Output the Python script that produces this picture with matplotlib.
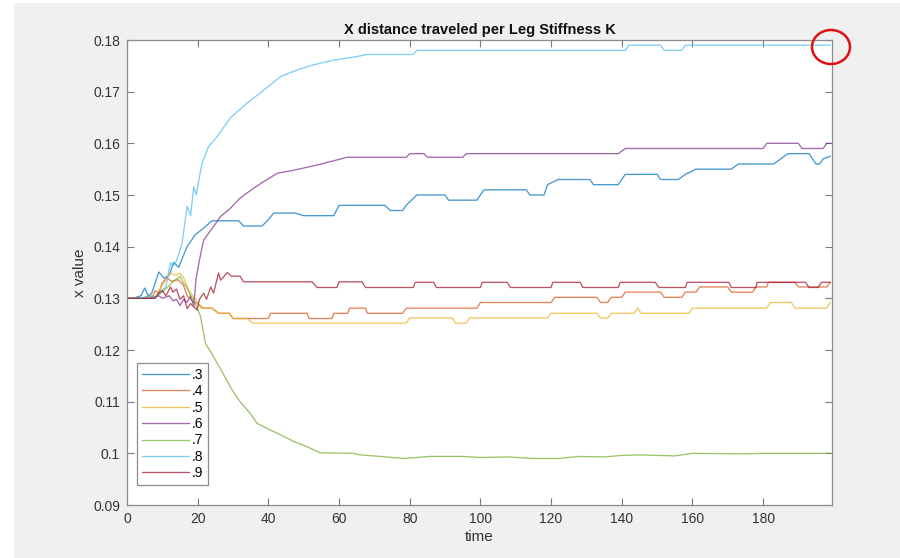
import matplotlib
matplotlib.use("Agg")
import matplotlib.pyplot as plt
from matplotlib.patches import Rectangle, Ellipse

plt.rcParams['font.family'] = ['Liberation Sans', 'DejaVu Sans']

# (time, x value) vertices, one list per stiffness
pts_03 = [(0, .130), (2, .130), (3, .1303), (4, .1305), (5, .132), (6, .1305), (7, .131),
          (9, .1351), (10.5, .1339), (12, .1345), (13.2, .137), (14.6, .136), (17, .140),
          (19.3, .1423), (21.7, .1436), (24, .145), (31.6, .145), (33, .144), (38.2, .144),
          (39.7, .145), (41.5, .1465), (47.6, .1465), (50, .146), (58.5, .146), (60, .148),
          (73, .148), (74.5, .147), (78, .147), (79, .148), (82, .150), (90, .150), (91, .149),
          (99, .149), (101, .151), (113, .151), (114, .150), (118, .150), (119, .152),
          (122, .153), (131, .153), (132, .152), (139, .152), (141, .154), (150, .154),
          (151, .153), (156, .153), (158, .154), (161, .155), (171, .155), (173, .156),
          (183, .156), (185, .157), (187, .158), (193, .158), (194, .157), (195, .156),
          (196, .156), (197, .157), (199, .1575)]

pts_04 = [(0, .130), (5, .130), (6, .1305), (7, .130), (8, .1315), (9, .131), (10, .133),
          (11.3, .134), (12.5, .1333), (14.5, .1336), (16, .1325), (17, .1305), (18.5, .1295),
          (20, .129), (21.5, .1281), (24, .1281), (26, .1271), (29, .1271), (30, .1261),
          (40, .1261), (40.6, .1271), (51, .1271), (51.5, .1261), (58, .1261), (58.5, .1271),
          (62.4, .1271), (63, .1281), (67.5, .1281), (68, .1271), (78, .1271), (79, .1281),
          (99, .1281), (100, .1292), (120, .1292), (121, .1302), (133, .1302), (134, .1292),
          (136, .1292), (137, .1302), (140, .1302), (141, .1312), (151, .1312), (152, .1302),
          (157, .1302), (158, .1312), (161, .1312), (162, .1322), (170, .1322), (171, .1312),
          (177, .1312), (178, .1322), (181, .1322), (181.5, .1331), (189, .1331),
          (190, .1322), (198, .1322), (199, .1331)]

pts_05 = [(0, .130), (6, .130), (7, .1305), (8, .130), (9, .1315), (10, .1325), (12.3, .135),
          (13.5, .1345), (15, .1348), (16, .134), (17.5, .1315), (19.6, .1296), (20.5, .1285),
          (21, .1281), (24, .1281), (25, .1276), (26, .1271), (29, .1271), (30, .1261),
          (34, .1261), (35.5, .1252), (79, .1252), (80, .1262), (92, .1262), (93, .1252),
          (96, .1252), (97, .1262), (119, .1262), (120, .1271), (133, .1271), (134, .1262),
          (136, .1262), (137, .1271), (143.5, .1271), (144.5, .1281), (145.5, .1271),
          (159, .1271), (160, .1281), (181, .1281), (182, .1292), (188, .1292), (189, .1281),
          (198, .1281), (199, .1292)]

pts_06 = [(0, .130), (7, .130), (9, .1305), (10, .130), (12, .1305), (13, .1295), (14, .1298),
          (15, .1286), (16, .1298), (17, .1292), (18, .1305), (18.9, .1285), (19.5, .1336),
          (20.5, .1374), (21.7, .1413), (24.5, .1439), (26.4, .1458), (29.2, .1474),
          (32, .1494), (35.8, .1513), (38.7, .1526), (42.5, .1542), (47.2, .1548),
          (53.8, .1558), (62.3, .1573), (79, .1573), (80, .158), (84, .158), (85, .1573),
          (95, .1573), (96, .158), (139, .158), (141, .159), (180, .159), (181, .160),
          (190, .160), (191, .159), (197, .159), (198, .160), (199, .160)]

pts_07 = [(0, .130), (5, .130), (6, .1305), (8, .1303), (10, .1312), (12, .1325), (13.5, .1335),
          (15, .1342), (16, .133), (17, .132), (18, .1305), (18.9, .1297), (20.8, .1265),
          (22.2, .1213), (24.5, .1187), (26.9, .1158), (29.7, .1123), (32, .1100),
          (34.9, .1077), (36.8, .1058), (40.6, .1045), (43.4, .1036), (47.2, .1023),
          (50.9, .1013), (54.7, .1001), (64.1, .1000), (66, .0997), (71.7, .0994),
          (75, .0992), (78.3, .0990), (82, .0992), (85.8, .0994), (95, .0994), (100, .0992),
          (108, .0993), (115, .0990), (122, .0990), (128, .0994), (135, .0993), (140, .0996),
          (145, .0997), (155, .0995), (160, .1000), (175, .0999), (180, .1000), (199, .1000)]

pts_08 = [(0, .130), (2, .130), (3, .1303), (4, .1300), (6, .1305), (8, .1302), (9, .131),
          (11, .1322), (12.3, .1369), (13, .1362), (14, .1372), (15.6, .1407), (17, .1478),
          (18, .146), (18.9, .1516), (19.6, .150), (21.2, .1561), (23.1, .1594), (25.5, .1613),
          (29.2, .1649), (34, .1678), (38.7, .1703), (43.4, .1729), (48.1, .1742),
          (52.8, .1752), (58.5, .1761), (65, .1768), (68, .1772), (81, .1772), (82, .178),
          (141, .178), (142, .179), (151, .179), (152, .178), (157, .178), (158, .179),
          (199, .179)]

pts_09 = [(0, .130), (8, .130), (9, .131), (10, .1315), (11, .1305), (12.3, .1322), (13, .1312),
          (14, .1318), (15, .1298), (16, .1305), (17, .128), (18, .129), (19.8, .1277),
          (20.5, .1298), (21.7, .131), (22.5, .1298), (23.7, .1322), (24.5, .131),
          (25.9, .1349), (26.5, .1335), (28.4, .135), (29.5, .1343), (32, .1343), (33, .1332),
          (52.4, .1332), (53.8, .1321), (59.4, .1321), (60, .1332), (66.5, .1332),
          (67.5, .1321), (81, .1321), (81.6, .1331), (86.8, .1331), (87.5, .1321),
          (100, .1321), (100.5, .1331), (107.6, .1331), (108.5, .1321), (120, .1321),
          (120.5, .1331), (128.3, .1331), (129, .1321), (139, .1321), (139.6, .1331),
          (149.5, .1331), (150.5, .1321), (158, .1321), (158.5, .1331), (170.3, .1331),
          (171, .1321), (178, .1321), (178.3, .1331), (192, .1331), (193, .1321),
          (195.6, .1321), (196.5, .1331), (199, .1331)]

labels = ['.3', '.4', '.5', '.6', '.7', '.8', '.9']
series = [pts_03, pts_04, pts_05, pts_06, pts_07, pts_08, pts_09]
colors = ['#0072BD', '#D95319', '#EDB120', '#7E2F8E', '#77AC30', '#4DBEEE', '#A2142F']

x_ticks = [0, 20, 40, 60, 80, 100, 120, 140, 160, 180]
y_ticks = [0.09, 0.10, 0.11, 0.12, 0.13, 0.14, 0.15, 0.16, 0.17, 0.18]
y_ticklabels = ['0.09', '0.1', '0.11', '0.12', '0.13', '0.14', '0.15', '0.16', '0.17', '0.18']

fig = plt.figure(figsize=(9, 5.58), dpi=100, facecolor='#f0f0f0')
# white strips of the screenshot edge
fig.patches.append(Rectangle((0, 0), 14 / 900, 1, transform=fig.transFigure,
                             facecolor='white', edgecolor='none', zorder=-1))
fig.patches.append(Rectangle((0, 1 - 3 / 558), 1, 3 / 558, transform=fig.transFigure,
                             facecolor='white', edgecolor='none', zorder=-1))

ax = fig.add_axes([127 / 900, 1 - 505 / 558, 705 / 900, 465 / 558])
ax.set_facecolor('white')

for pts, lab, c in zip(series, labels, colors):
    t = [p[0] for p in pts]
    v = [p[1] for p in pts]
    ax.plot(t, v, color=c, lw=0.95, alpha=0.72, label=lab)

ax.set_xlim(0, 199.5)
ax.set_ylim(0.09, 0.18)
ax.set_xticks(x_ticks)
ax.set_yticks(y_ticks)
ax.set_yticklabels(y_ticklabels)
ax.tick_params(direction='in', length=5, width=0.8, color='#7a7a7a', labelsize=10,
               labelcolor='#333333', top=True, right=True, pad=5)
for s in ax.spines.values():
    s.set_color('#8c8c8c')
    s.set_linewidth(0.9)

ax.set_title('X distance traveled per Leg Stiffness K', fontsize=10.5, fontweight='bold',
             color='#111111', pad=4)
ax.set_xlabel('time', fontsize=11, color='#333333', labelpad=3)
ax.set_ylabel('x value', fontsize=11, color='#333333', labelpad=4)

leg = ax.legend(loc='lower left', bbox_to_anchor=(0.014, 0.043), fontsize=10,
                handlelength=3.4, handletextpad=0.2, labelspacing=0.17,
                borderpad=0.35, borderaxespad=0, fancybox=False, framealpha=1)
leg.get_frame().set_edgecolor('#8c8c8c')
leg.get_frame().set_linewidth(0.9)

# red hand-drawn mark at the top right corner
fig.patches.append(Ellipse((831 / 900, 1 - 47 / 558), 38 / 900, 34 / 558,
                           transform=fig.transFigure, facecolor='none',
                           edgecolor='#e01010', lw=1.8, zorder=5))

fig.savefig('out.png', dpi=100, facecolor=fig.get_facecolor())
